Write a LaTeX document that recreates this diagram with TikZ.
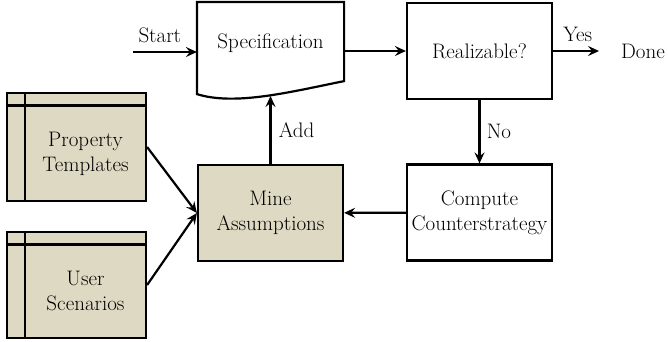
\documentclass[tikz,border=0pt]{standalone}
\usepackage{fontspec}
\usepackage{xcolor}
\usetikzlibrary{arrows.meta}
\definecolor{tan}{RGB}{221,217,195}

\begin{document}
\begin{tikzpicture}[x=1pt, y=-1pt, line width=2.2pt, font=\fontsize{21}{25}\selectfont]
                \useasboundingbox (0,0) rectangle (668,341);

                \begin{scope}[every node/.style = {rectangle, draw, align=center, inner sep=0pt,
                                                   minimum width=145pt, minimum height=96pt}]
                    \node (real) at (479.5, 51)    {Realizable?};
                    \node (comp) at (479.5, 212.5) {Compute\\Counterstrategy};
                    \node[fill=tan] (mine) at (270.5, 213) {Mine\\Assumptions};
                    \node[draw=none, minimum height=80pt] (spec) at (270.5, 43) {Specification};
                \end{scope}

                % document shape round the specification
                \draw (spec.north west) -- (spec.north east) -- ([yshift=3pt]spec.south east)
                      .. controls (290, 92) and (235, 106) .. ([yshift=-10pt]spec.south west) -- cycle;

                \begin{scope}[every node/.style = {rectangle, draw, fill=tan, minimum width=139pt,
                                path picture={
                                  \draw ([xshift=18pt]path picture bounding box.north west)
                                     -- ([xshift=18pt]path picture bounding box.south west);
                                  \draw ([yshift=-12.5pt]path picture bounding box.north west)
                                     -- ([yshift=-12.5pt]path picture bounding box.north east);}}]
                    \node[minimum height=108pt] (prop) at (76.5, 147) {};
                    \node[minimum height=106pt] (user) at (76.5, 285) {};
                \end{scope}
                \node[align=center] (propt) at (85.5, 153.5) {Property\\Templates};
                \node[align=center] (usert) at (85.5, 291)   {User\\Scenarios};

                \begin{scope}[>={Stealth[length=11pt, width=10pt, inset=4pt]}]
                     \coordinate (start)  at (133, 52);
                     \coordinate (addtip) at (270.5, 96);
                     \node[inner sep=2pt] (done) at (643, 51) {Done};

                     \path [->] (start) edge node[above=5pt, pos=0.42] {Start} (start -| spec.west);
                     \path [->] (spec.east |- real) edge (real);
                     \path [->] (real) edge[shorten >=19pt] node[above=5pt, pos=0.38] {Yes} (done);
                     \path [->] (real) edge node[right=3pt] {No} (comp);
                     \path [->] (comp) edge (mine);
                     \path [->] (mine) edge node[right=4pt] {Add} (addtip);

                     \path [->] (prop.east) edge (mine.west);
                     \path [->] (user.east) edge (mine.west);
                \end{scope}
            \end{tikzpicture}
\end{document}
